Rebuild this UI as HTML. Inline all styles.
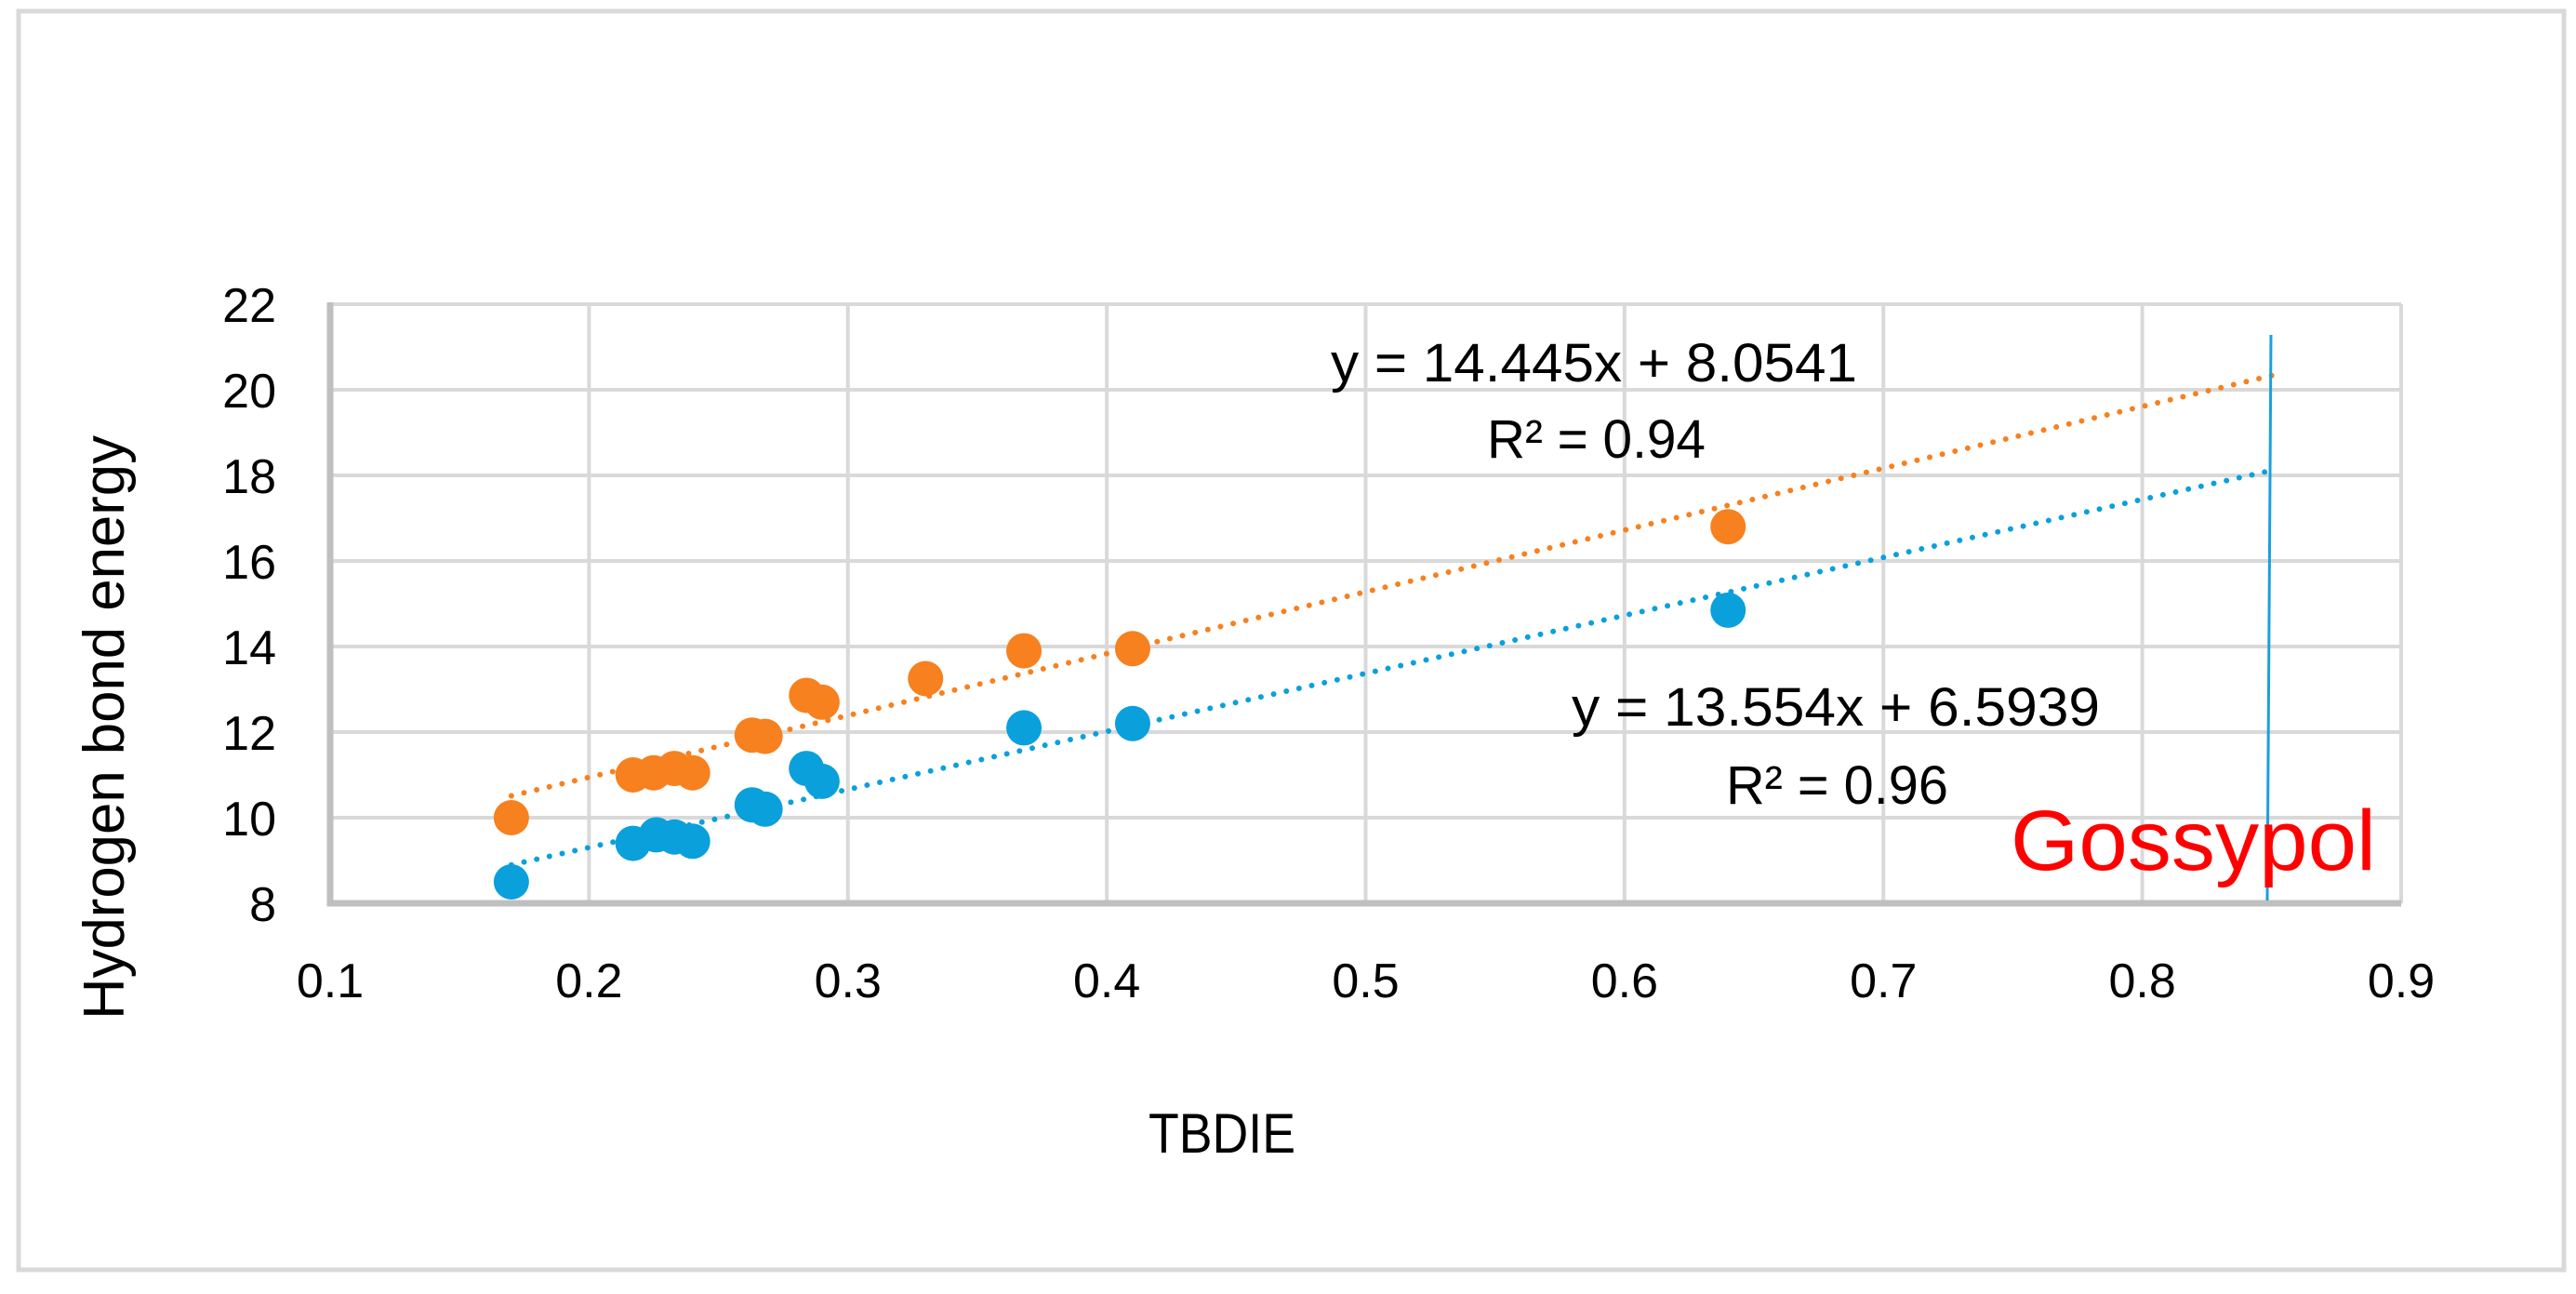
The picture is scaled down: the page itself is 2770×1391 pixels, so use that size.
<!DOCTYPE html>
<html><head><meta charset="utf-8"><style>
html,body{margin:0;padding:0;background:#fff;}
svg{display:block;font-family:"Liberation Sans",sans-serif;}
</style></head><body>
<svg id="chart" width="2770" height="1391" viewBox="0 0 2770 1391" xmlns="http://www.w3.org/2000/svg">
<rect x="20" y="12" width="2737" height="1353" fill="#fff" stroke="#d9d9d9" stroke-width="5"/>
<g id="grid"></g>
<g id="axes"></g>
<g id="trend"></g>
<g id="marks"></g>
<line x1="2442" y1="360" x2="2438" y2="968" stroke="#1aa0dc" stroke-width="3"/>
<text x="2162" y="935" font-size="92" fill="#ff0000" textLength="393" lengthAdjust="spacingAndGlyphs">Gossypol</text>
<text x="1431" y="410" font-size="58" fill="#000" textLength="566" lengthAdjust="spacingAndGlyphs">y = 14.445x + 8.0541</text>
<text x="1599" y="492" font-size="58" fill="#000" textLength="235" lengthAdjust="spacingAndGlyphs">R² = 0.94</text>
<text x="1690" y="780" font-size="58" fill="#000" textLength="568" lengthAdjust="spacingAndGlyphs">y = 13.554x + 6.5939</text>
<text x="1856" y="864" font-size="58" fill="#000" textLength="239" lengthAdjust="spacingAndGlyphs">R² = 0.96</text>
<text x="1235" y="1239" font-size="60" fill="#000" textLength="158" lengthAdjust="spacingAndGlyphs">TBDIE</text>
<text transform="translate(133,1096) rotate(-90)" font-size="62" fill="#000" textLength="628" lengthAdjust="spacingAndGlyphs">Hydrogen bond energy</text>
</svg>
<script>
const xTicks = [0.1,0.2,0.3,0.4,0.5,0.6,0.7,0.8,0.9];
const yTicks = [8,10,12,14,16,18,20,22];
const orangeX = [0.17,0.217,0.225,0.233,0.24,0.263,0.268,0.284,0.29,0.33,0.368,0.41,0.64];
const orangeY = [10.0,11.0,11.05,11.15,11.05,11.93,11.9,12.86,12.7,13.25,13.9,13.95,16.8];
const blueX = [0.17,0.217,0.226,0.233,0.24,0.263,0.268,0.284,0.29,0.368,0.41,0.64];
const blueY = [8.5,9.4,9.6,9.55,9.45,10.3,10.2,11.15,10.85,12.1,12.2,14.85];
const orangeFit = [14.445, 8.0541];
const blueFit = [13.554, 6.5939];
const fitRange = [0.17, 0.85];

const X0=355, X1=2582, Y0=971, Y1=327;
const sx = v => X0 + (v-0.1)/(0.8)*(X1-X0);
const sy = v => Y0 - (v-8)/14*(Y0-Y1);
const NS="http://www.w3.org/2000/svg";
function mk(tag, attrs, parent){const e=document.createElementNS(NS,tag);for(const k in attrs)e.setAttribute(k,attrs[k]);document.getElementById(parent).appendChild(e);return e;}

xTicks.forEach((t,i)=>{
  if(i>0){const l=mk('line',{x1:sx(t),x2:sx(t),y1:Y1,y2:Y0,stroke:'#d9d9d9','stroke-width':4},'grid');
  
  }
  const tx=mk('text',{x:sx(t),y:1072,'font-size':52,'text-anchor':'middle',fill:'#000'},'axes');
  tx.textContent=String(t);
  
  
});
yTicks.forEach((t,i)=>{
  if(i>0){const l=mk('line',{x1:X0,x2:X1,y1:sy(t),y2:sy(t),stroke:'#d9d9d9','stroke-width':4},'grid');
  
  }
  const tx=mk('text',{x:297,y:sy(t)+19,'font-size':52,'text-anchor':'end',fill:'#000'},'axes');
  tx.textContent=String(t);
  
  
});
const ya=mk('line',{x1:X0,x2:X0,y1:Y1-2,y2:Y0+3,stroke:'#bfbfbf','stroke-width':7},'axes');


const xa=mk('line',{x1:X0-3,x2:X1,y1:Y0,y2:Y0,stroke:'#bfbfbf','stroke-width':7},'axes');



function trend(fit,color,name){
  const l=mk('line',{x1:sx(fitRange[0]),y1:sy(fit[0]*fitRange[0]+fit[1]),x2:sx(fitRange[1]),y2:sy(fit[0]*fitRange[1]+fit[1]),stroke:color,'stroke-width':6,'stroke-linecap':'round','stroke-dasharray':'0 14'},'trend');
  
  
}
trend(orangeFit,'#f7801f','orange-trendline');
trend(blueFit,'#0aa0dc','blue-trendline');

orangeX.forEach((x,i)=>{
  const c=mk('circle',{cx:sx(x),cy:sy(orangeY[i]),r:19,fill:'#f7801f'},'marks');
  
  
});
blueX.forEach((x,i)=>{
  const c=mk('circle',{cx:sx(x),cy:sy(blueY[i]),r:19,fill:'#0aa0dc'},'marks');
  
  
});
</script>
</body></html>
